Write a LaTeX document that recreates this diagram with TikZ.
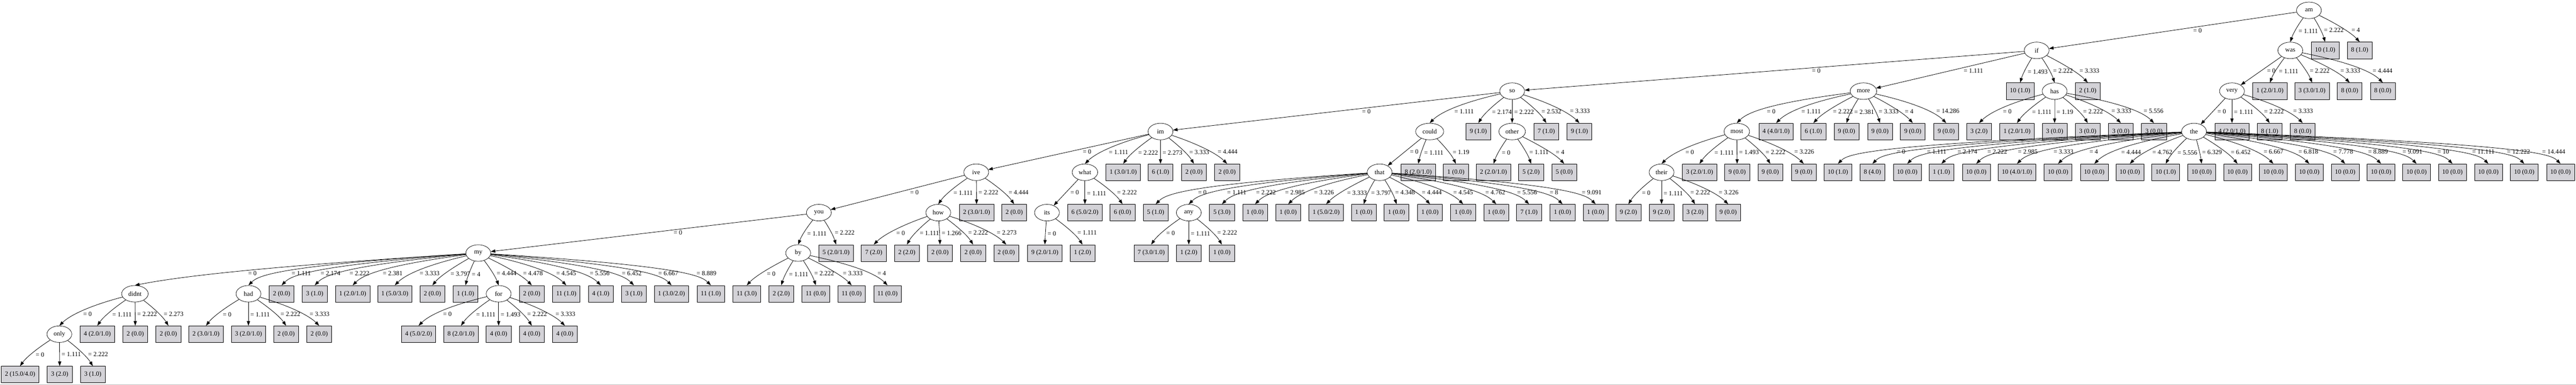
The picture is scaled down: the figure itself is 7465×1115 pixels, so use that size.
\documentclass[tikz,border=0pt]{standalone}
\usepackage{fontspec}
\setmainfont{Liberation Serif}
\usetikzlibrary{arrows.meta,shapes.geometric,calc}
\definecolor{leafgray}{RGB}{211,210,215}
\newdimen\parx
\newdimen\kidx
% curved connector, label beside it
\newcommand{\twig}[4][60]{%
  \pgfextractx{\parx}{\pgfpointanchor{#2}{center}}%
  \pgfextractx{\kidx}{\pgfpointanchor{#3}{center}}%
  \pgfmathsetmacro\bend{max(-#1,min(#1,0.5*(\parx-\kidx)))}%
  \pgfmathsetmacro\bendb{0.35*\bend}%
  \ifdim\bend pt<0pt \def\lpos{0.69}\def\lanch{south west}%
  \else \def\lpos{0.5}\def\lanch{north west}\fi
  \draw[arr] (#2) .. controls ($(#3.north)+(\bend pt,41.85pt)$)
    and ($(#3.north)+(\bendb pt,20.9pt)$) .. (#3.north)
    node[val,pos=\lpos,anchor=\lanch] {= #4};
}
% straight connector
\newcommand{\branch}[3]{%
  \draw[arr] (#1) -- (#2);
  \path ($(#1)!0.432!(#2)$) node[val,anchor=north west] {= #3};
}
% leaves of one test
\newcommand{\fan}[3]{%
  \foreach \x/\t/\v [count=\i] in {#3}{
    \node[leaf] (#1-\i) at (\x,#2) {\t};
    \twig{#1}{#1-\i}{\v}
  }
}

\begin{document}
\begin{tikzpicture}[x=0.75pt,y=-0.75pt,
    attr/.style={draw,ellipse,line width=0.8pt,minimum width=54pt,minimum height=36pt,
      inner xsep=6pt,inner ysep=2pt,font=\fontsize{14}{16}\selectfont},
    leaf/.style={draw,fill=leafgray,line width=0.8pt,minimum width=54pt,minimum height=36pt,
      inner xsep=8pt,font=\fontsize{14}{16}\selectfont},
    arr/.style={line width=0.9pt,-{Triangle[length=10pt,width=7pt]}},
    val/.style={inner sep=1pt,xshift=3pt,font=\fontsize{14}{16}\selectfont}]
  \useasboundingbox (0,0) rectangle (7465,1115);
  \draw[black!25] (0,1114) -- (7465,1114);

  % tests
  \node[attr] (am) at (6691,30) {am};
  \node[attr] (if) at (5902,146) {if};
  \node[attr] (was) at (6637,146) {was};
  \node[attr] (so) at (4382,264) {so};
  \node[attr] (more) at (5400,264) {more};
  \node[attr] (has) at (5954,264) {has};
  \node[attr] (very) at (6468,264) {very};
  \node[attr] (im) at (3363,381) {im};
  \node[attr] (could) at (4143,381) {could};
  \node[attr] (other) at (4382,381) {other};
  \node[attr] (most) at (5033,381) {most};
  \node[attr] (the) at (6358,381) {the};
  \node[attr] (ive) at (2829,499) {ive};
  \node[attr] (what) at (3144,499) {what};
  \node[attr] (that) at (3998,499) {that};
  \node[attr] (their) at (4815,499) {their};
  \node[attr] (you) at (2373,616) {you};
  \node[attr] (how) at (2719,616) {how};
  \node[attr] (its) at (3034,616) {its};
  \node[attr] (any) at (3445,616) {any};
  \node[attr] (my) at (1386,733) {my};
  \node[attr] (by) at (2313,733) {by};
  \node[attr] (didnt) at (391,851) {didnt};
  \node[attr] (had) at (720,851) {had};
  \node[attr] (for) at (1445,851) {for};
  \node[attr] (only) at (172,968) {only};

  % test to test
  \branch{am}{if}{0}
  \twig{am}{was}{1.111}
  \branch{if}{so}{0}
  \branch{if}{more}{1.111}
  \twig{if}{has}{2.222}
  \branch{was}{very}{0}
  \branch{so}{im}{0}
  \twig{so}{could}{1.111}
  \twig{so}{other}{2.222}
  \twig{more}{most}{0}
  \branch{very}{the}{0}
  \branch{im}{ive}{0}
  \twig{im}{what}{1.111}
  \branch{could}{that}{0}
  \twig{most}{their}{0}
  \branch{ive}{you}{0}
  \twig{ive}{how}{1.111}
  \branch{what}{its}{0}
  \twig{that}{any}{1.111}
  \branch{you}{my}{0}
  \twig{you}{by}{1.111}
  \twig[300]{my}{didnt}{0}
  \twig{my}{had}{1.111}
  \twig{my}{for}{4.444}
  \twig{didnt}{only}{0}

  % leaves
  \fan{am}{146}{6738/{10 (1.0)}/2.222, 6838/{8 (1.0)}/4}
  \fan{if}{264}{5854/{10 (1.0)}/1.493, 6050/{2 (1.0)}/3.333}
  \fan{was}{264}{6578/{1 (2.0/1.0)}/1.111, 6700/{3 (3.0/1.0)}/2.222, 6809/{8 (0.0)}/3.333, 6905/{8 (0.0)}/4.444}
  \fan{so}{381}{4284/{9 (1.0)}/2.174, 4481/{7 (1.0)}/2.532, 4577/{9 (1.0)}/3.333}
  \fan{more}{381}{5147/{4 (4.0/1.0)}/1.111, 5255/{6 (1.0)}/2.222, 5351/{9 (0.0)}/2.381, 5448/{9 (0.0)}/3.333, 5543/{9 (0.0)}/4, 5640/{9 (0.0)}/14.286}
  \fan{has}{381}{5735/{3 (2.0)}/0, 5845/{1 (2.0/1.0)}/1.111, 5954/{3 (0.0)}/1.19, 6050/{3 (0.0)}/2.222, 6146/{3 (0.0)}/3.333, 6242/{3 (0.0)}/5.556}
  \fan{very}{381}{6468/{4 (2.0/1.0)}/1.111, 6577/{8 (1.0)}/2.222, 6673/{8 (0.0)}/3.333}
  \fan{im}{499}{3255/{1 (3.0/1.0)}/2.222, 3363/{6 (1.0)}/2.273, 3460/{2 (0.0)}/3.333, 3556/{2 (0.0)}/4.444}
  \fan{could}{499}{4110/{8 (2.0/1.0)}/1.111, 4219/{1 (0.0)}/1.19}
  \fan{other}{499}{4328/{2 (2.0/1.0)}/0, 4437/{5 (2.0)}/1.111, 4533/{5 (0.0)}/4}
  \fan{most}{499}{4925/{3 (2.0/1.0)}/1.111, 5034/{9 (0.0)}/1.493, 5130/{9 (0.0)}/2.222, 5227/{9 (0.0)}/3.226}
  \fan{the}{499}{5326/{10 (1.0)}/0, 5426/{8 (4.0)}/1.111, 5527/{10 (0.0)}/2.174, 5626/{1 (1.0)}/2.222, 5727/{10 (0.0)}/2.985, 5845/{10 (4.0/1.0)}/3.333, 5964/{10 (0.0)}/4, 6069/{10 (0.0)}/4.444, 6172/{10 (0.0)}/4.762, 6276/{10 (1.0)}/5.556, 6380/{10 (0.0)}/6.329, 6484/{10 (0.0)}/6.452, 6588/{10 (0.0)}/6.667, 6692/{10 (0.0)}/6.818, 6796/{10 (0.0)}/7.778, 6900/{10 (0.0)}/8.889, 7003/{10 (0.0)}/9.091, 7107/{10 (0.0)}/10, 7211/{10 (0.0)}/11.111, 7315/{10 (0.0)}/12.222, 7420/{10 (0.0)}/14.444}
  \fan{what}{616}{3144/{6 (5.0/2.0)}/1.111, 3253/{6 (0.0)}/2.222}
  \fan{ive}{616}{2830/{2 (3.0/1.0)}/2.222, 2939/{2 (0.0)}/4.444}
  \fan{that}{616}{3349/{5 (1.0)}/0, 3541/{5 (3.0)}/2.222, 3637/{1 (0.0)}/2.985, 3733/{1 (0.0)}/3.226, 3843/{1 (5.0/2.0)}/3.333, 3952/{1 (0.0)}/3.797, 4047/{1 (0.0)}/4.348, 4144/{1 (0.0)}/4.444, 4240/{1 (0.0)}/4.545, 4336/{1 (0.0)}/4.762, 4431/{7 (1.0)}/5.556, 4528/{1 (0.0)}/8, 4624/{1 (0.0)}/9.091}
  \fan{their}{616}{4719/{9 (2.0)}/0, 4815/{9 (2.0)}/1.111, 4912/{3 (2.0)}/2.222, 5008/{9 (0.0)}/3.226}
  \fan{you}{733}{2423/{5 (2.0/1.0)}/2.222}
  \fan{how}{733}{2532/{7 (2.0)}/0, 2628/{2 (2.0)}/1.111, 2724/{2 (0.0)}/1.266, 2820/{2 (0.0)}/2.222, 2916/{2 (0.0)}/2.273}
  \fan{its}{733}{3028/{9 (2.0/1.0)}/0, 3137/{1 (2.0)}/1.111}
  \fan{any}{733}{3336/{7 (3.0/1.0)}/0, 3445/{1 (2.0)}/1.111, 3541/{1 (0.0)}/2.222}
  \fan{my}{851}{816/{2 (0.0)}/2.174, 912/{3 (1.0)}/2.222, 1022/{1 (2.0/1.0)}/2.381, 1144/{1 (5.0/3.0)}/3.333, 1253/{2 (0.0)}/3.797, 1349/{1 (1.0)}/4, 1541/{2 (0.0)}/4.478, 1641/{11 (1.0)}/4.545, 1741/{4 (1.0)}/5.556, 1837/{3 (1.0)}/6.452, 1946/{1 (3.0/2.0)}/6.667, 2060/{11 (1.0)}/8.889}
  \fan{by}{851}{2164/{11 (3.0)}/0, 2264/{2 (2.0)}/1.111, 2364/{11 (0.0)}/2.222, 2468/{11 (0.0)}/3.333, 2572/{11 (0.0)}/4}
  \fan{didnt}{968}{282/{4 (2.0/1.0)}/1.111, 392/{2 (0.0)}/2.222, 488/{2 (0.0)}/2.273}
  \fan{had}{968}{597/{2 (3.0/1.0)}/0, 720/{3 (2.0/1.0)}/1.111, 829/{2 (0.0)}/2.222, 925/{2 (0.0)}/3.333}
  \fan{for}{968}{1213/{4 (5.0/2.0)}/0, 1336/{8 (2.0/1.0)}/1.111, 1445/{4 (0.0)}/1.493, 1541/{4 (0.0)}/2.222, 1637/{4 (0.0)}/3.333}
  \fan{only}{1085}{58/{2 (15.0/4.0)}/0, 173/{3 (2.0)}/1.111, 269/{3 (1.0)}/2.222}
\end{tikzpicture}
\end{document}
